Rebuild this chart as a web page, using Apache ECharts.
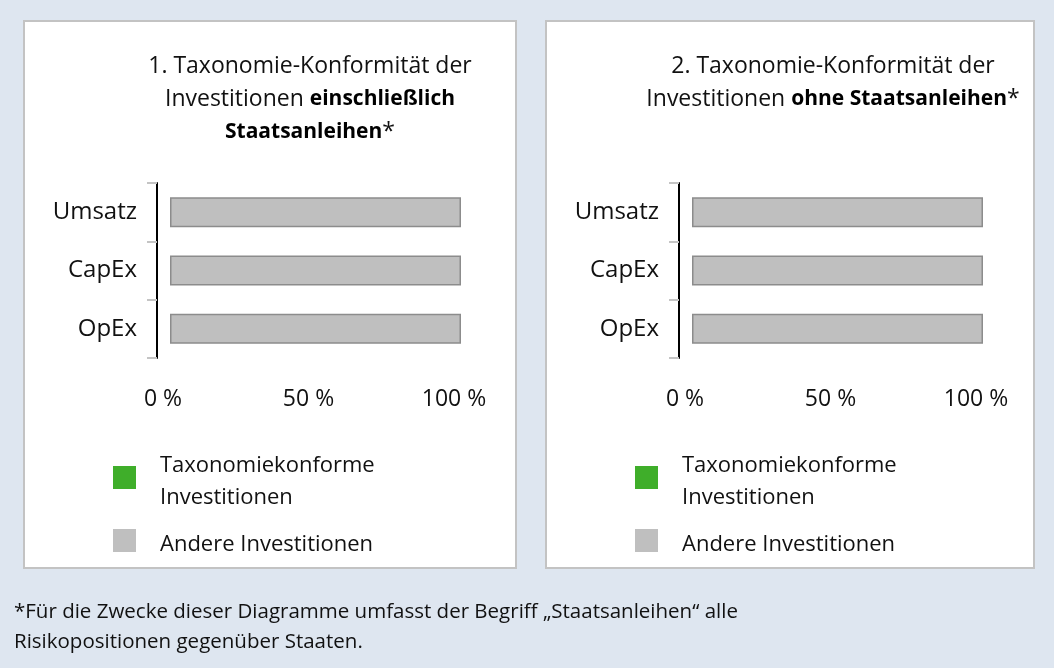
<!DOCTYPE html>
<html>
<head>
<meta charset="utf-8">
<script src="https://cdn.jsdelivr.net/npm/echarts@6/dist/echarts.min.js"></script>
<style>
  html, body { margin: 0; padding: 0; background: #dee6f0; }
  #chart { width: 1054px; height: 668px; }
</style>
</head>
<body>
<div id="chart"></div>
<script>
// Daten
var categories = ['Umsatz', 'CapEx', 'OpEx'];
var gruenWerte1 = [0, 0, 0];        // Taxonomiekonform, inkl. Staatsanleihen
var grauWerte1 = [100, 100, 100];   // Andere, inkl. Staatsanleihen
var gruenWerte2 = [0, 0, 0];        // Taxonomiekonform, ohne Staatsanleihen
var grauWerte2 = [100, 100, 100];   // Andere, ohne Staatsanleihen
var xTicks = [0, 50, 100];

var nameGruen = 'Taxonomiekonforme Investitionen';
var nameGrau = 'Andere Investitionen';
var FONT = 'Open Sans';

var myChart = echarts.init(document.getElementById('chart'));

function yAchse(gridIndex) {
	return {
		type: 'category',
		gridIndex: gridIndex,
		data: categories,
		inverse: true,
		offset: 13,
		axisLine: { onZero: false, lineStyle: { color: '#000', width: 2 } },
		axisTick: { show: true, length: 10, lineStyle: { color: '#c4c4c4', width: 2 } },
		axisLabel: { margin: 20, fontSize: 24, color: '#111', fontFamily: FONT, padding: [6, 0, 0, 0] }
	};
}
function xAchse(gridIndex) {
	return {
		type: 'value',
		gridIndex: gridIndex,
		min: xTicks[0],
		max: xTicks[xTicks.length - 1],
		interval: 50,
		axisLine: { show: false },
		axisTick: { show: false },
		splitLine: { show: false },
		axisLabel: {
			margin: 30, fontSize: 23, color: '#111', fontFamily: FONT,
			padding: [0, 14, 0, 0],
			formatter: '{value} %'
		}
	};
}
function legende(left) {
	return {
		orient: 'vertical',
		left: left,
		top: 445.5,
		padding: 0,
		itemWidth: 23,
		itemHeight: 23,
		itemGap: 15,
		icon: 'rect',
		itemStyle: { borderWidth: 0 },
		data: [nameGruen, nameGrau],
		formatter: function(n) {
			return n == nameGruen ? '{t|Taxonomiekonforme}\n{t|Investitionen}' : '{t|' + n + '}';
		},
		textStyle: {
			fontSize: 22, lineHeight: 32, color: '#111', fontFamily: FONT, padding: [0, 0, 0, 19],
			rich: { t: { fontSize: 22, lineHeight: 32, height: 24, verticalAlign: 'bottom', color: '#111', fontFamily: FONT } }
		}
	};
}
function balken(name, werte, idx, farbe, rand) {
	return {
		name: name,
		type: 'bar',
		stack: 'p' + idx,
		xAxisIndex: idx,
		yAxisIndex: idx,
		data: werte,
		barWidth: 30,
		itemStyle: { color: farbe, borderColor: rand || farbe, borderWidth: rand ? 1.5 : 0 },
		emphasis: { disabled: true }
	};
}

var titelStil = {
	fontSize: 23, fontWeight: 'normal', color: '#111', lineHeight: 33, fontFamily: FONT,
	rich: { b: { fontSize: 21, fontWeight: 'bold', color: '#000', lineHeight: 33, fontFamily: FONT } }
};

var option = {
	animation: false,
	textStyle: { fontFamily: FONT },
	graphic: [
		{ type: 'rect', z: -10, shape: { x: 24, y: 21, width: 492, height: 547 },
		  style: { fill: '#fff', stroke: '#c3c3c3', lineWidth: 2 } },
		{ type: 'rect', z: -10, shape: { x: 546, y: 21, width: 488, height: 547 },
		  style: { fill: '#fff', stroke: '#c3c3c3', lineWidth: 2 } },
		{ type: 'text', left: 14, top: 597,
		  style: { text: '*Für die Zwecke dieser Diagramme umfasst der Begriff „Staatsanleihen“ alle\nRisikopositionen gegenüber Staaten.',
		           fontSize: 20.5, lineHeight: 30, fill: '#111', fontFamily: FONT } }
	],
	title: [{
		text: '1. Taxonomie-Konformität der\nInvestitionen {b|einschließlich}\n{b|Staatsanleihen}*',
		left: 310, top: 50, padding: 0, textAlign: 'center',
		textStyle: titelStil
	}, {
		text: '2. Taxonomie-Konformität der\nInvestitionen {b|ohne Staatsanleihen}*',
		left: 833, top: 50, padding: 0, textAlign: 'center',
		textStyle: titelStil
	}],
	legend: [legende(113), legende(635)],
	grid: [
		{ left: 170, top: 183, width: 291, height: 175 },
		{ left: 692, top: 183, width: 291, height: 175 }
	],
	xAxis: [xAchse(0), xAchse(1)],
	yAxis: [yAchse(0), yAchse(1)],
	series: [
		balken(nameGruen, gruenWerte1, 0, '#3fae2a'),
		balken(nameGrau, grauWerte1, 0, '#bfbfbf', '#8c8c8c'),
		balken(nameGruen, gruenWerte2, 1, '#3fae2a'),
		balken(nameGrau, grauWerte2, 1, '#bfbfbf', '#8c8c8c')
	]
};
myChart.setOption(option);
</script>
</body>
</html>
